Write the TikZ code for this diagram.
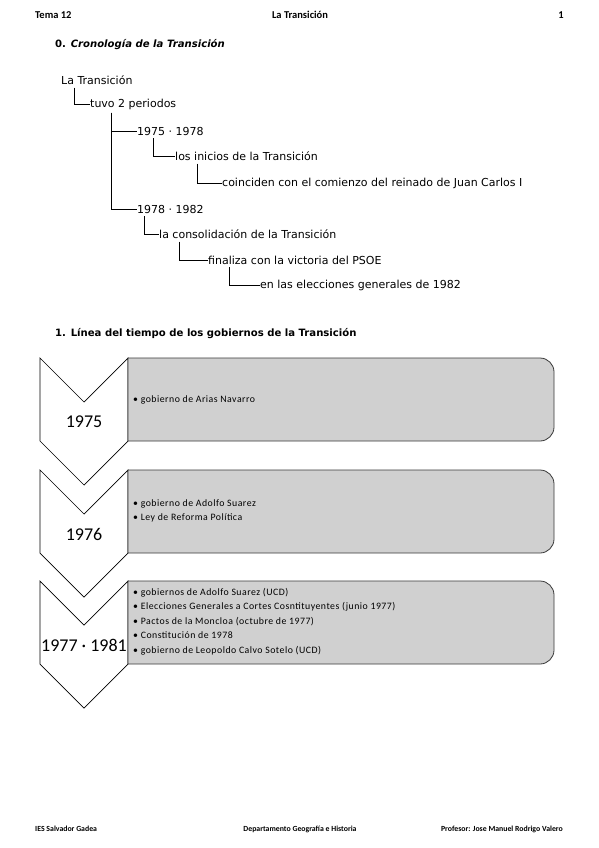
\documentclass[tikz,border=0pt]{standalone}
\usepackage{fontspec}
\setmainfont{Carlito}
\newfontfamily\comicfont{DejaVu Sans}
\newfontfamily\boxfont[LetterSpace=5]{Carlito}
\usetikzlibrary{calc}
\definecolor{boxgray}{HTML}{D0D0D0}
\definecolor{boxline}{HTML}{3A3A3A}
\tikzset{
  treetext/.style={anchor=west, inner sep=0pt, font=\comicfont\fontsize{11}{12}\selectfont},
  treeline/.style={line width=0.8pt, black},
  hdr/.style={inner sep=0pt, font=\bfseries\fontsize{10.5}{12}\selectfont},
  ftr/.style={inner sep=0pt, font=\bfseries\fontsize{7.8}{9}\selectfont},
  heading/.style={anchor=west, inner sep=0pt, font=\comicfont\bfseries\fontsize{10.1}{12}\selectfont},
  chevron/.style={draw=black, line width=0.7pt, fill=white, line join=miter},
  govbox/.style={draw=boxline, line width=0.8pt, fill=boxgray},
  govtext/.style={anchor=west, inner sep=0pt, align=left, font=\boxfont\fontsize{9.8}{14.6}\selectfont},
  year/.style={inner sep=0pt, font=\fontsize{18}{21}\selectfont}
}
\begin{document}
\begin{tikzpicture}[x=1pt,y=1pt]
\useasboundingbox (0,0) rectangle (599,-848);
\fill[white] (0,0) rectangle (599,-848);
% header
\node[hdr, anchor=west] (h1) at (35,-15) {Tema 12};
\node[hdr] (h2) at (300,-15) {La Transición};
\node[hdr, anchor=east] (h3) at (564,-15) {1};
% headings
\node[heading] (s0) at (55,-45) {0. \textit{Cronología de la Transición}};
\node[heading] (s1) at (55,-334) {1. Línea del tiempo de los gobiernos de la Transición};
% tree
\node[treetext] (t0) at (61,-80) {La Transición};
\node[treetext] (t1) at (90,-104) {tuvo 2 periodos};
\node[treetext] (t2) at (137,-131) {1975 · 1978};
\node[treetext] (t3) at (175,-156) {los inicios de la Transición};
\node[treetext] (t4) at (222,-183) {coinciden con el comienzo del reinado de Juan Carlos I};
\node[treetext] (t5) at (137,-209) {1978 · 1982};
\node[treetext] (t6) at (159,-234) {la consolidación de la Transición};
\node[treetext] (t7) at (208,-260) {finaliza con la victoria del PSOE};
\node[treetext] (t8) at (260,-285) {en las elecciones generales de 1982};
\draw[treeline] ([xshift=13pt,yshift=-3pt]t0.south west) |- (t1.west);
\draw[treeline] ([xshift=21pt,yshift=-3pt]t1.south west) |- (t2.west);
\draw[treeline] ([xshift=21pt,yshift=-3pt]t1.south west) |- (t5.west);
\draw[treeline] ([xshift=16pt,yshift=-3pt]t2.south west) |- (t3.west);
\draw[treeline] ([xshift=22pt,yshift=-3pt]t3.south west) |- (t4.west);
\draw[treeline] ([xshift=7pt,yshift=-3pt]t5.south west) |- (t6.west);
\draw[treeline] ([xshift=20pt,yshift=-3pt]t6.south west) |- (t7.west);
\draw[treeline] ([xshift=21pt,yshift=-3pt]t7.south west) |- (t8.west);
% timeline
\foreach \T/\yr/\nm in {358/1975/a, 470/1976/b, 581/1977 · 1981/c}{
  \draw[chevron] (40,-\T) -- (84,-\T-44) -- (128,-\T) -- (128,-\T-83) -- (84,-\T-127) -- (40,-\T-83) -- cycle;
  \draw[govbox] (128,-\T) -- (540,-\T) arc[start angle=90,end angle=0,radius=14] -- (554,-\T-69) arc[start angle=0,end angle=-90,radius=14] -- (128,-\T-83) -- cycle;
  \node[year] (y\nm) at (84,-\T-64) {\yr};
}
\node[govtext] (g1) at (133,-400) {• gobierno de Arias Navarro};
\node[govtext] (g2) at (133,-511) {• gobierno de Adolfo Suarez\\• Ley de Reforma Política};
\node[govtext] (g3) at (133,-621.5) {• gobiernos de Adolfo Suarez (UCD)\\• Elecciones Generales a Cortes Cosntituyentes (junio 1977)\\• Pactos de la Moncloa (octubre de 1977)\\• Constitución de 1978\\• gobierno de Leopoldo Calvo Sotelo (UCD)};
% footer
\node[ftr, anchor=west] (f1) at (35,-829) {IES Salvador Gadea};
\node[ftr] (f2) at (300,-829) {Departamento Geografía e Historia};
\node[ftr, anchor=east] (f3) at (563,-829) {Profesor: Jose Manuel Rodrigo Valero};
\end{tikzpicture}
\end{document}
